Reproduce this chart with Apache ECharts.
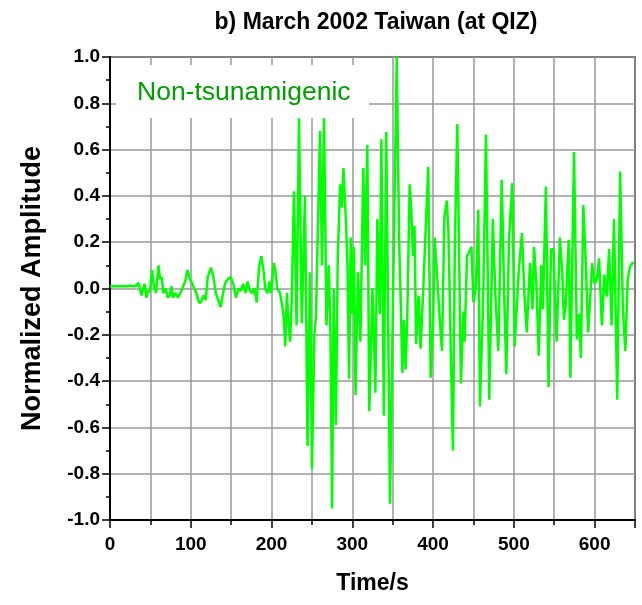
<!DOCTYPE html>
<html>
<head>
<meta charset="utf-8">
<script src="https://cdn.jsdelivr.net/npm/echarts@6/dist/echarts.min.js"></script>
<style>
  html, body { margin: 0; padding: 0; background: #fff; }
  #chart { width: 642px; height: 605px; }
</style>
</head>
<body>
<div id="chart"></div>
<script>
// Station QIZ record of the March 2002 Taiwan event, normalized amplitude vs. time
const chartTitle = 'b) March 2002 Taiwan (at QIZ)';
const seriesName = 'Non-tsunamigenic';
const xAxisName = 'Time/s';
const yAxisName = 'Normalized Amplitude';

const xTickValues = [0, 100, 200, 300, 400, 500, 600];
const yTickValues = [-1.0, -0.8, -0.6, -0.4, -0.2, 0.0, 0.2, 0.4, 0.6, 0.8, 1.0];

// time (s)
const timeSec = [
  0, 5, 10, 15, 20, 25, 30, 33, 35, 37, 39, 41, 43, 45, 47, 49.5, 52, 54, 57, 60,
  62, 64, 66, 69, 71.4, 74, 76, 78, 81, 84, 87, 89.5, 93, 96, 99, 102, 104.4, 107, 110, 112.7,
  115.6, 118.5, 121, 125, 128, 131, 134, 137, 139.5, 142.4, 145.7, 149.4, 152.7, 156, 159, 162, 165, 168, 170.4, 173.3,
  176, 178.7, 181.6, 184.5, 187.4, 190, 192.3, 195, 197.3, 199, 200.6, 202.6, 204.7, 207, 210.5, 213, 215, 217, 219, 221,
  223, 225, 227.8, 231, 234, 237.5, 241.4, 244.6, 247.6, 250, 253, 255, 260, 262.5, 265, 268, 271, 273, 275, 277,
  279.7, 282, 285, 287, 289, 292, 294, 296, 298, 300, 302, 304, 307, 310, 313.6, 316, 318.6, 321, 325, 328.6,
  331, 334, 336, 339, 342, 346.7, 351, 355, 358, 360, 362, 364, 366, 368, 371, 373, 375, 377, 379, 382,
  384.5, 388, 391, 394, 397, 400, 402, 405, 408, 411, 414, 417, 419, 422, 424.6, 427, 430, 434.5, 437.5, 439,
  442, 445, 447.5, 450, 453, 456, 458, 462, 465.5, 469.6, 474, 477, 480.8, 485, 488, 490.7, 494, 498, 501, 506,
  510, 513, 516, 520, 523, 525, 528, 530.8, 534, 536, 539.7, 543, 546, 549, 553, 557, 560, 562, 564, 568,
  570, 574.5, 578, 581, 583, 586, 589, 592, 597, 600, 603, 605.5, 609, 612, 615, 618, 621, 624, 628, 631.6,
  635, 638, 641, 644, 647, 649
];

// normalized amplitude
const amplitude = [
  0.01, 0.01, 0.01, 0.01, 0.01, 0.012, 0.01, 0.012, 0.026, 0.0, -0.03, 0.0, 0.02, -0.04, -0.01, -0.015, 0.08, 0.02, -0.02, 0.10,
  0.04, 0.05, -0.02, 0.0, -0.04, -0.03, 0.01, -0.04, -0.02, -0.04, -0.02, 0.0, 0.03, 0.08, 0.04, 0.02, 0.0, -0.02, -0.06, -0.06,
  -0.03, -0.05, 0.05, 0.09, 0.05, -0.02, -0.05, -0.08, -0.03, 0.02, 0.04, 0.05, 0.02, -0.04, 0.0, -0.01, 0.02, -0.02, 0.03, -0.01,
  -0.02, 0.0, -0.06, 0.09, 0.14, 0.08, 0.0, -0.02, 0.03, -0.02, 0.02, 0.11, 0.08, 0.0, -0.02, -0.07, -0.12, -0.25, -0.02, -0.15,
  -0.23, -0.05, 0.42, -0.16, 0.735, -0.15, 0.40, -0.68, 0.07, -0.78, -0.20, -0.12, 0.68, 0.10, 0.735, -0.16, 0.10, -0.20, -0.95, 0.0,
  -0.59, 0.14, 0.45, 0.35, 0.52, 0.30, 0.10, -0.39, 0.22, -0.11, 0.18, -0.46, 0.07, -0.23, 0.52, 0.10, 0.62, -0.53, 0.0, -0.45,
  0.30, -0.11, 0.645, -0.55, 0.676, -0.93, 0.10, 1.0, 0.20, -0.06, -0.365, -0.135, -0.35, -0.135, 0.45, 0.34, 0.14, 0.27, -0.24, -0.03,
  -0.26, 0.01, 0.27, 0.526, -0.385, -0.16, 0.22, 0.05, -0.12, -0.27, 0.31, 0.38, 0.25, -0.28, -0.70, 0.20, 0.71, -0.41, -0.10, -0.23,
  0.14, 0.16, 0.18, -0.06, 0.01, 0.34, -0.51, -0.05, 0.665, -0.48, 0.30, -0.02, -0.27, 0.47, -0.02, -0.37, 0.21, 0.455, -0.25, 0.07,
  0.24, -0.02, -0.19, 0.11, -0.09, 0.18, 0.01, -0.29, 0.10, -0.09, 0.44, -0.425, 0.17, 0.17, -0.23, 0.22, 0.07, -0.135, -0.08, 0.21,
  -0.385, 0.59, -0.22, -0.11, -0.30, 0.36, 0.12, -0.19, 0.11, 0.02, 0.045, 0.13, -0.16, 0.06, -0.035, 0.17, -0.16, 0.30, -0.48, 0.505,
  -0.09, -0.27, 0.04, 0.095, 0.11, 0.11
];

const trace = timeSec.map((t, i) => [t, amplitude[i]]);

const FONT = '"Liberation Sans", Arial, sans-serif';
const gridColor = '#999';

const chart = echarts.init(document.getElementById('chart'), null, { renderer: 'canvas' });

chart.setOption({
  animation: false,
  backgroundColor: '#fff',
  title: {
    text: chartTitle,
    left: 371,
    top: 6,
    textAlign: 'center',
    textStyle: { fontFamily: FONT, fontSize: 23, fontWeight: 'bold', color: '#000' }
  },
  grid: {
    left: 110, right: 7, top: 57, bottom: 85,
    show: true, borderColor: '#000', borderWidth: 1.5,
    outerBoundsMode: 'none'
  },
  xAxis: {
    type: 'value',
    min: xTickValues[0],
    max: 650,
    interval: xTickValues[1] - xTickValues[0],
    name: xAxisName,
    nameLocation: 'middle',
    nameGap: 52,
    nameTextStyle: { fontFamily: FONT, fontSize: 23, fontWeight: 'bold', color: '#000' },
    axisLine: { show: true, onZero: false, lineStyle: { color: '#000', width: 2 } },
    axisTick: { show: true, length: 8, lineStyle: { color: '#000', width: 1.5 } },
    minorTick: { show: true, splitNumber: 2, length: 5, lineStyle: { color: '#000', width: 1.5 } },
    splitLine: { show: true, lineStyle: { color: gridColor, width: 1.5 } },
    minorSplitLine: { show: true, lineStyle: { color: gridColor, width: 1.5 } },
    axisLabel: {
      margin: 15, showMaxLabel: false,
      fontFamily: FONT, fontSize: 19, fontWeight: 'bold', color: '#000',
      formatter: v => xTickValues.includes(v) ? String(v) : ''
    }
  },
  yAxis: {
    type: 'value',
    min: yTickValues[0],
    max: yTickValues[yTickValues.length - 1],
    interval: 0.2,
    name: yAxisName,
    nameLocation: 'middle',
    nameRotate: 90,
    nameGap: 64,
    nameTextStyle: { fontFamily: FONT, fontSize: 27, fontWeight: 'bold', color: '#000' },
    axisLine: { show: true, onZero: false, lineStyle: { color: '#000', width: 2 } },
    axisTick: { show: true, length: 8, lineStyle: { color: '#000', width: 1.5 } },
    minorTick: { show: true, splitNumber: 2, length: 4, lineStyle: { color: '#000', width: 1.5 } },
    splitLine: { show: true, lineStyle: { color: gridColor, width: 1.5 } },
    axisLabel: {
      margin: 10,
      fontFamily: FONT, fontSize: 19, fontWeight: 'bold', color: '#000',
      formatter: v => (Math.abs(v) < 1e-9 ? 0 : v).toFixed(1)
    }
  },
  series: [{
    name: seriesName,
    type: 'line',
    data: trace,
    showSymbol: false,
    symbol: 'none',
    lineStyle: { color: '#00ff00', width: 2.5 },
    z: 3
  }],
  graphic: [
    {
      type: 'rect',
      z: 100,
      shape: { x: 116, y: 65, width: 253, height: 53 },
      style: { fill: '#fff' },
      silent: true
    },
    {
      type: 'text',
      z: 101,
      x: 137, y: 93,
      style: {
        text: seriesName,
        font: '26.5px ' + FONT,
        fill: '#009f00',
        verticalAlign: 'middle'
      },
      silent: true
    }
  ]
});
</script>
</body>
</html>
